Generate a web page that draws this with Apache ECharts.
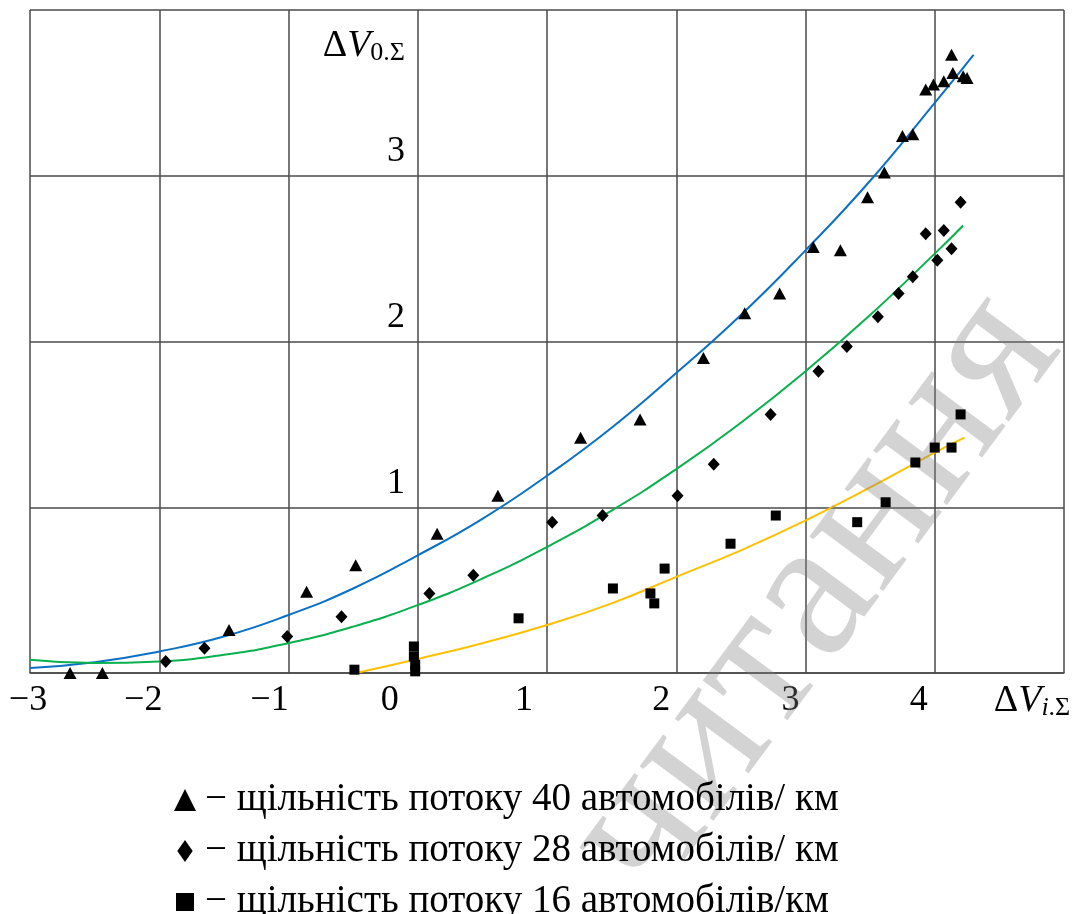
<!DOCTYPE html>
<html>
<head>
<meta charset="utf-8">
<script src="https://cdn.jsdelivr.net/npm/echarts@6/dist/echarts.min.js"></script>
<style>
html, body { margin: 0; padding: 0; background: #fff; }
#chart { width: 1073px; height: 914px; }
</style>
</head>
<body>
<div id="chart"></div>
<script>
var dens40 = [[-2.69, 0], [-2.44, 0], [-1.46, 0.26], [-0.86, 0.49], [-0.48, 0.65], [0.15, 0.84],
    [0.62, 1.07], [1.26, 1.42], [1.72, 1.53], [2.21, 1.90], [2.53, 2.17], [2.80, 2.29],
    [3.06, 2.57], [3.27, 2.55], [3.48, 2.87], [3.61, 3.02], [3.75, 3.24], [3.83, 3.25],
    [3.93, 3.52], [3.99, 3.55], [4.07, 3.57], [4.13, 3.73], [4.14, 3.62], [4.22, 3.60], [4.25, 3.59]];
var dens28 = [[-1.95, 0.07], [-1.65, 0.15], [-1.01, 0.22], [-0.59, 0.34], [0.09, 0.48], [0.43, 0.59],
    [1.04, 0.91], [1.43, 0.95], [2.01, 1.07], [2.29, 1.26], [2.73, 1.56], [3.10, 1.82],
    [3.32, 1.97], [3.56, 2.15], [3.72, 2.29], [3.83, 2.39], [4.02, 2.49], [3.93, 2.65],
    [4.13, 2.56], [4.07, 2.67], [4.20, 2.84]];
var dens16 = [[-0.49, 0.02], [-0.03, 0.16], [-0.03, 0.10], [-0.02, 0.05], [-0.02, 0.01],
    [0.78, 0.33], [1.51, 0.51], [1.80, 0.48], [1.83, 0.42], [1.91, 0.63], [2.42, 0.78],
    [2.77, 0.95], [3.40, 0.91], [3.62, 1.03], [3.85, 1.27], [4.00, 1.36], [4.13, 1.36], [4.20, 1.56]];

// trend curves
var fit40X = [-3, -2.5, -2, -1.5, -1, -0.5, 0, 0.5, 1, 1.5, 2, 2.5, 3, 3.5, 4, 4.3];
var fit40Y = [0.03, 0.065, 0.13, 0.22, 0.35, 0.51, 0.71, 0.93, 1.19, 1.48, 1.81, 2.16, 2.55, 2.97, 3.44, 3.73];
var fit28X = [-3, -2.5, -2, -1.5, -1, -0.5, 0, 0.5, 1, 1.5, 2, 2.5, 3, 3.5, 4, 4.22];
var fit28Y = [0.08, 0.06, 0.07, 0.11, 0.18, 0.28, 0.41, 0.57, 0.76, 0.98, 1.23, 1.51, 1.82, 2.16, 2.53, 2.70];
var fit16X = [-0.48, 0, 0.5, 1, 1.5, 2, 2.5, 3, 3.5, 4, 4.23];
var fit16Y = [0.0, 0.085, 0.18, 0.29, 0.42, 0.58, 0.74, 0.92, 1.12, 1.33, 1.42];

var xTickLabels = ['−3', '−2', '−1', '0', '1', '2', '3', '4'];
var yTickLabels = ['', '1', '2', '3', ''];
var legendNames = ['щільність потоку 40 автомобілів/ км', 'щільність потоку 28 автомобілів/ км', 'щільність потоку 16 автомобілів/км'];

// labels in the figure sit a little left of their grid lines
var xLabelShift = [2, 16, 19, 28, 23, 15, 15, 16, 32];

function zip(xs, ys) {
    return xs.map(function (x, i) { return [x, ys[i]]; });
}

var serif = '"Liberation Serif", "DejaVu Serif", serif';
var xRich = {
    d: { fontFamily: serif, fontSize: 38, lineHeight: 40, color: '#000' },
    v: { fontFamily: serif, fontSize: 38, lineHeight: 40, fontStyle: 'italic', color: '#000' },
    si: { fontFamily: serif, fontSize: 26, lineHeight: 29, fontStyle: 'italic', verticalAlign: 'bottom', color: '#000' },
    s8: { fontFamily: serif, fontSize: 26, lineHeight: 29, verticalAlign: 'bottom', color: '#000', padding: [0, 2 * xLabelShift[8], 0, 0] }
};
xLabelShift.forEach(function (s, i) {
    if (i < 8) {
        xRich['n' + i] = { fontFamily: serif, fontSize: 36, lineHeight: 40, color: '#000', padding: [0, 2 * s, 0, 0] };
    }
});

var chart = echarts.init(document.getElementById('chart'));
var gridColor = '#4a4a4a';

var option = {
    animation: false,
    backgroundColor: '#fff',
    grid: { left: 30, top: 10, right: 9, bottom: 241, outerBoundsMode: 'none' },
    xAxis: {
        type: 'value', min: -3, max: 5, interval: 1,
        axisLine: { show: true, onZero: false, lineStyle: { color: gridColor, width: 1.5 } },
        axisTick: { show: false },
        splitLine: { show: true, lineStyle: { color: gridColor, width: 1.5 } },
        axisLabel: {
            margin: 8,
            formatter: function (v) {
                var i = Math.round(v + 3);
                if (i === 8) return '{d|Δ}{v|V}{si|i}{s8|.Σ}';
                return '{n' + i + '|' + xTickLabels[i] + '}';
            },
            rich: xRich
        }
    },
    yAxis: {
        type: 'value', min: 0, max: 4, interval: 1,
        offset: -388,
        axisLine: { show: false, onZero: false },
        axisTick: { show: false },
        splitLine: { show: true, lineStyle: { color: gridColor, width: 1.5 } },
        axisLabel: {
            margin: 13,
            verticalAlign: 'bottom',
            padding: [0, 0, 6, 0],
            fontFamily: serif, fontSize: 36, color: '#000',
            formatter: function (v) { return yTickLabels[Math.round(v)]; }
        },
        name: '{d|Δ}{v|V}{s|0.Σ}',
        nameLocation: 'end',
        nameGap: -16,
        nameTextStyle: {
            align: 'right', verticalAlign: 'top', padding: [0, 13, 0, 0],
            rich: {
                d: { fontFamily: serif, fontSize: 38, lineHeight: 40, color: '#000' },
                v: { fontFamily: serif, fontSize: 38, lineHeight: 40, fontStyle: 'italic', color: '#000' },
                s: { fontFamily: serif, fontSize: 26, lineHeight: 29, verticalAlign: 'bottom', color: '#000' }
            }
        }
    },
    legend: {
        orient: 'vertical',
        left: 172, top: 780, height: 170,
        padding: 0,
        itemWidth: 22, itemHeight: 22,
        itemGap: 11,
        selectedMode: false,
        formatter: '− {name}',
        textStyle: { fontFamily: serif, fontSize: 39, lineHeight: 40, color: '#000', padding: [0, 0, 0, 4] },
        data: [
            { name: legendNames[0], icon: 'triangle' },
            { name: legendNames[1], icon: 'path://M7,0 L14,10 L7,20 L0,10 Z' },
            { name: legendNames[2], icon: 'path://M0,0 H10 V10 H0 Z',
              itemStyle: { borderColor: '#fff', borderWidth: 4 } }
        ]
    },
    series: [
        { name: 'fit40', type: 'line', smooth: true, showSymbol: false, silent: true, z: 2,
          lineStyle: { color: '#0a70c6', width: 2 }, data: zip(fit40X, fit40Y) },
        { name: 'fit28', type: 'line', smooth: true, showSymbol: false, silent: true, z: 2,
          lineStyle: { color: '#08b04e', width: 2 }, data: zip(fit28X, fit28Y) },
        { name: 'fit16', type: 'line', smooth: true, showSymbol: false, silent: true, z: 2,
          lineStyle: { color: '#ffc000', width: 2 }, data: zip(fit16X, fit16Y) },
        { name: legendNames[0], type: 'scatter', symbol: 'triangle', symbolSize: [13, 12], z: 4,
          itemStyle: { color: '#000', opacity: 1 }, data: dens40 },
        { name: legendNames[1], type: 'scatter', symbol: 'diamond', symbolSize: [12, 13], z: 4,
          itemStyle: { color: '#000', opacity: 1 }, data: dens28 },
        { name: legendNames[2], type: 'scatter', symbol: 'rect', symbolSize: [10, 10], z: 4,
          itemStyle: { color: '#000', opacity: 1 }, data: dens16 }
    ],
    graphic: [{
        type: 'text',
        x: 815, y: 595,
        rotation: 53.5 * Math.PI / 180,
        silent: true,
        z: 3,
        style: {
            text: 'читання',
            font: '200px "Liberation Serif", serif',
            fill: 'rgba(128,128,128,0.35)',
            align: 'center',
            verticalAlign: 'middle'
        }
    }]
};

chart.setOption(option);
</script>
</body>
</html>
